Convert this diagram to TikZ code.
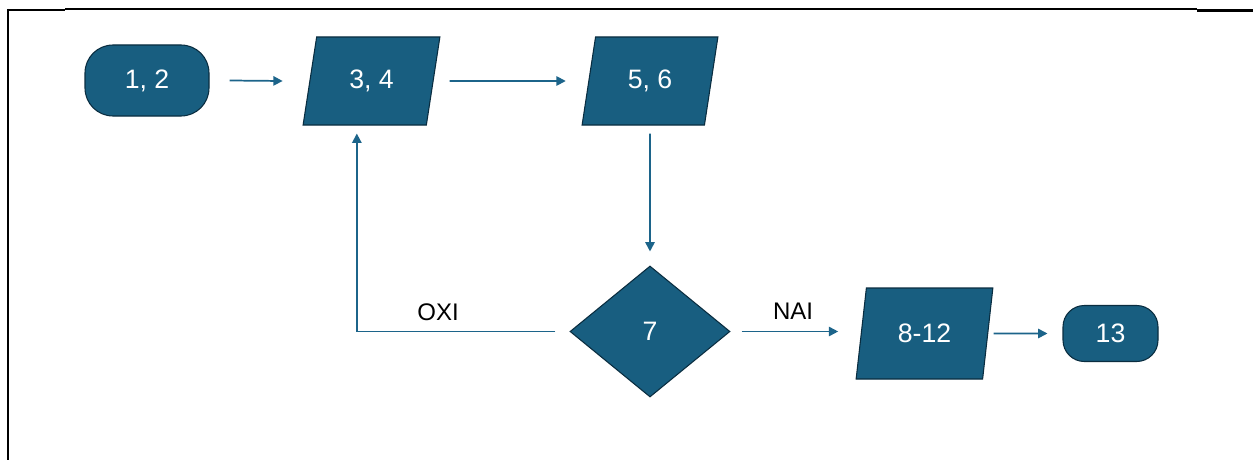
\documentclass[tikz,border=0pt]{standalone}
\usepackage{fontspec}
\setmainfont{Liberation Sans}
\usetikzlibrary{shapes.geometric,arrows.meta}
\definecolor{boxfill}{RGB}{24,94,128}
\definecolor{boxline}{RGB}{10,45,64}
\definecolor{arrowc}{RGB}{28,100,138}
\begin{document}
\begin{tikzpicture}[x=0.75pt,y=-0.75pt,
  shp/.style={draw=boxline, fill=boxfill, line width=0.8pt, text=white,
    font=\fontsize{20}{24}\selectfont, inner sep=0pt},
  term/.style={shp, rectangle, rounded corners=#1},
  para/.style={shp, trapezium, trapezium left angle=76, trapezium right angle=104,
    trapezium stretches=true},
  decis/.style={shp, diamond},
  conn/.style={draw=arrowc, line width=1.3pt, -{Triangle[length=7pt,width=7pt]}},
  lbl/.style={font=\fontsize{18}{22}\selectfont, text=black, inner sep=0pt},
  frame/.style={draw=black}]
\useasboundingbox (0,0) rectangle (1253,460);
% frame
\draw[frame, line width=0.8pt] (65,9) -- (1197,9);
\draw[frame, line width=1.6pt] (7,10) -- (65,10);
\draw[frame, line width=1.6pt] (1197,10.5) -- (1253,10.5);
\draw[frame, line width=1.6pt] (8,9) -- (8,460);
% nodes
\node[term=21pt, minimum width=93pt, minimum height=53.25pt] (n12) at (147,80.5) {1, 2};
\node[para, minimum width=102.75pt, minimum height=66pt] (n34) at (371.5,81) {3, 4};
\node[para, minimum width=102pt, minimum height=66pt] (n56) at (650,81) {5, 6};
\node[decis, minimum width=120pt, minimum height=98.25pt] (n7) at (650,331.5) {7};
\node[para, minimum width=102.75pt, minimum height=68.25pt] (n812) at (924.5,333.5) {8-12};
\node[term=16pt, minimum width=71.25pt, minimum height=42pt] (n13) at (1110.5,333.5) {13};
\node[lbl] (oxi) at (438,312) {OXI};
\node[lbl] (nai) at (793,311) {NAI};
% connectors
\draw[conn] ([xshift=15pt]n12.east) -- ([xshift=-20pt]n34.west);
\draw[conn] ([xshift=12pt]n34.east) -- ([xshift=-16.9pt]n56.west);
\draw[conn] ([yshift=-6pt]n56.south) -- ([yshift=10.5pt]n7.north);
\draw[conn] ([xshift=-10.5pt]n7.west) -| ([xshift=-11pt,yshift=-6pt]n34.south);
\draw[conn] ([xshift=8.25pt]n7.east) -- ([xshift=-16.9pt]n812.west |- n7.east);
\draw[conn] ([xshift=4pt]n812.east) -- ([xshift=-11.25pt]n13.west);
\end{tikzpicture}
\end{document}
